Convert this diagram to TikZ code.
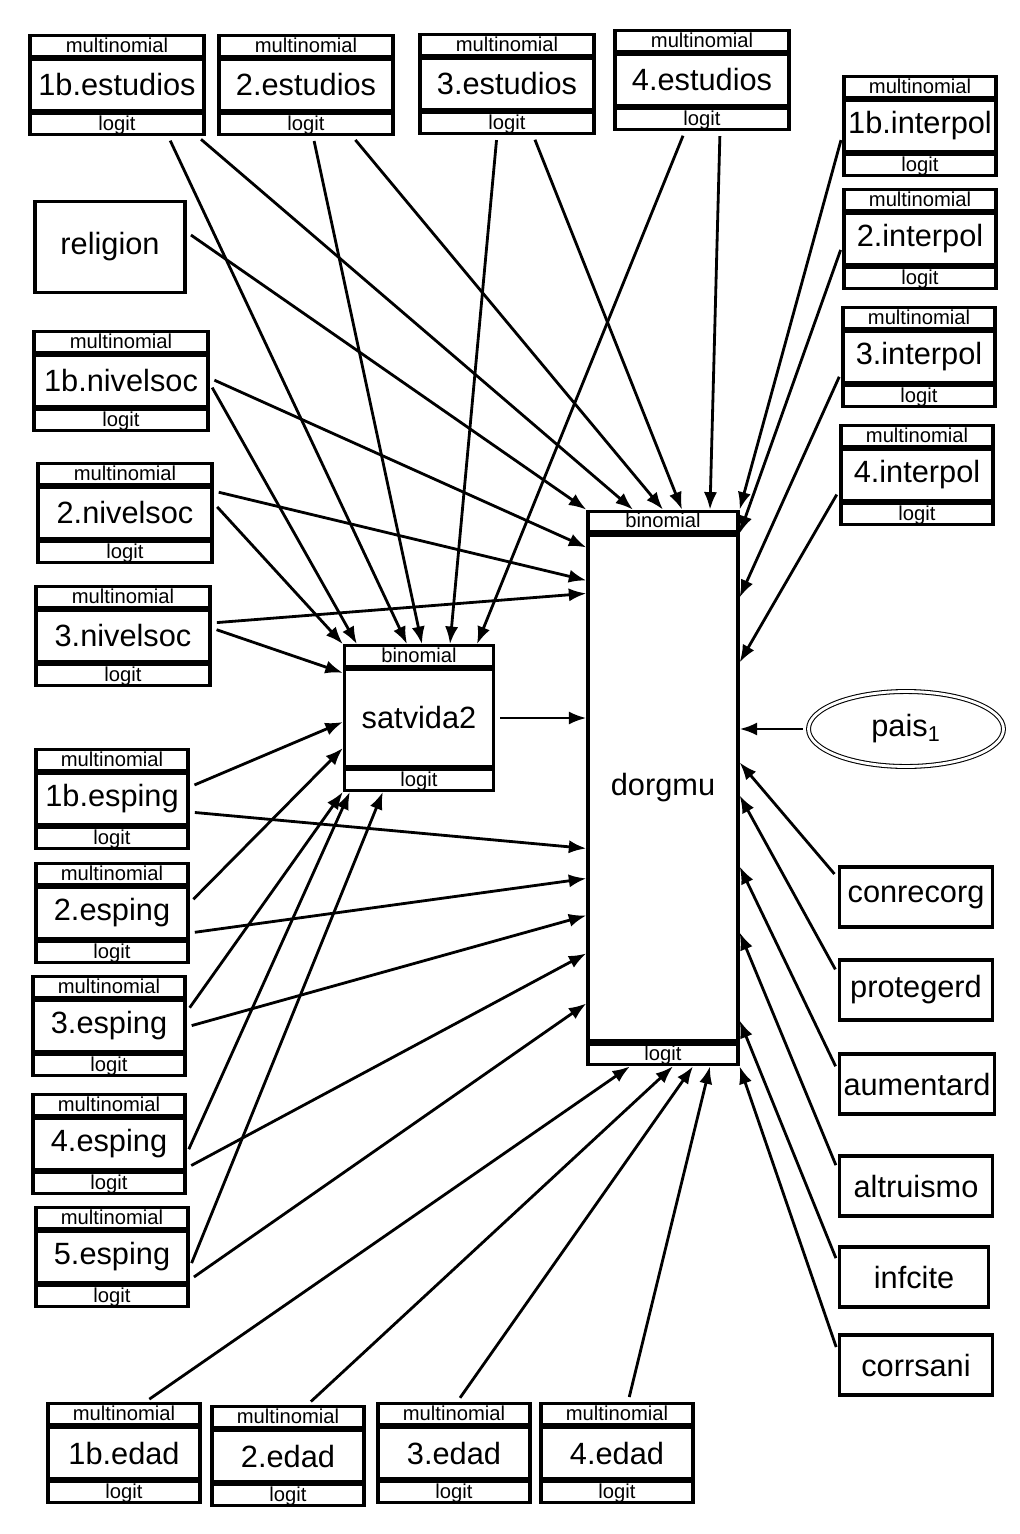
\documentclass[tikz,border=0pt]{standalone}
\usepackage{fontspec}
\setmainfont{Liberation Sans}
\usetikzlibrary{arrows.meta,positioning,calc,shapes.geometric}

% variable box with upper and lower strip
\newcommand{\semvar}[6]{%
  \node[midbox, minimum width=#3, minimum height=#4] (#1) at (#2) {#5};
  \node[stripbox, minimum width=#3, above=0pt of #1] (#1-t) {#6};
  \node[stripbox, minimum width=#3, below=0pt of #1] (#1-b) {logit};
}

\begin{document}
\begin{tikzpicture}[x=0.02cm, y=-0.02cm,
  midbox/.style={draw, line width=0.065cm, inner sep=0pt, font=\fontsize{17.5}{20}\selectfont},
  stripbox/.style={draw, line width=0.065cm, inner sep=0pt, minimum height=0.41cm, text height=8.5pt, text depth=1.5pt, font=\fontsize{11.5}{12}\selectfont},
  arr/.style={-{Latex[length=10pt,width=7.5pt]}, line width=1.6pt, shorten <=3pt}]
	\path[fill=white] (0,0) rectangle (1019,1534);
	% top row
	\semvar{est1}{117,85}{3.48cm}{1.02cm}{1b.estudios}{multinomial}
	\semvar{est2}{306,85}{3.48cm}{1.02cm}{2.estudios}{multinomial}
	\semvar{est3}{507,84}{3.48cm}{1.02cm}{3.estudios}{multinomial}
	\semvar{est4}{702,80}{3.48cm}{1.02cm}{4.estudios}{multinomial}
	% right column
	\semvar{ip1}{920,126}{3.04cm}{1.02cm}{1b.interpol}{multinomial}
	\semvar{ip2}{920,239}{3.04cm}{1.02cm}{2.interpol}{multinomial}
	\semvar{ip3}{919,357}{3.04cm}{1.02cm}{3.interpol}{multinomial}
	\semvar{ip4}{917,475}{3.04cm}{1.02cm}{4.interpol}{multinomial}
	% left column
	\node[midbox, minimum width=3.0cm, minimum height=1.82cm] (rel) at (110,247) {religion};
	\semvar{ns1}{121,381}{3.48cm}{1.02cm}{1b.nivelsoc}{multinomial}
	\semvar{ns2}{125,513}{3.48cm}{1.02cm}{2.nivelsoc}{multinomial}
	\semvar{ns3}{123,636}{3.48cm}{1.02cm}{3.nivelsoc}{multinomial}
	\semvar{es1}{112,799}{3.04cm}{1.02cm}{1b.esping}{multinomial}
	\semvar{es2}{112,913}{3.04cm}{1.02cm}{2.esping}{multinomial}
	\semvar{es3}{109,1026}{3.04cm}{1.02cm}{3.esping}{multinomial}
	\semvar{es4}{109,1144}{3.04cm}{1.02cm}{4.esping}{multinomial}
	\semvar{es5}{112,1257}{3.04cm}{1.02cm}{5.esping}{multinomial}
	% bottom row
	\semvar{ed1}{124,1453}{3.04cm}{1.02cm}{1b.edad}{multinomial}
	\semvar{ed2}{288,1456}{3.04cm}{1.02cm}{2.edad}{multinomial}
	\semvar{ed3}{454,1453}{3.04cm}{1.02cm}{3.edad}{multinomial}
	\semvar{ed4}{617,1453}{3.04cm}{1.02cm}{4.edad}{multinomial}
	% outcomes
	\semvar{sat}{419,718}{2.98cm}{1.94cm}{satvida2}{binomial}
	\semvar{dorg}{663,788}{3.0cm}{10.12cm}{dorgmu}{binomial}
	\node[ellipse, draw, double, line width=0.6pt, double distance=1.6pt, minimum width=3.9cm, minimum height=1.5cm, font=\fontsize{17.5}{20}\selectfont] (pais) at (906,729) {pais\textsubscript{1}};
	\node[midbox, minimum width=3.06cm, minimum height=1.2cm] (conr) at (916,897) {conrecorg};
	\node[midbox, minimum width=3.06cm, minimum height=1.2cm] (prot) at (916,990) {protegerd};
	\node[midbox, minimum width=3.1cm, minimum height=1.2cm] (aum) at (917,1084) {aumentard};
	\node[midbox, minimum width=3.06cm, minimum height=1.2cm] (altr) at (916,1186) {altruismo};
	\node[midbox, minimum width=2.98cm, minimum height=1.2cm] (infc) at (914,1277) {infcite};
	\node[midbox, minimum width=3.06cm, minimum height=1.2cm] (corr) at (916,1365) {corrsani};
	% estudios
	\draw[arr] ($(est1-b.south)+(51,0)$) -- ($(sat-t.north)+(-12,0)$);
	\draw[arr] ($(est1-b.south)+(80,0)$) -- ($(dorg-t.north)+(-30,0)$);
	\draw[arr] ($(est2-b.south)+(7,0)$) -- ($(sat-t.north)+(3,0)$);
	\draw[arr] ($(est2-b.south)+(46,0)$) -- (dorg-t.north);
	\draw[arr] ($(est3-b.south)+(-10,0)$) -- ($(sat-t.north)+(31,0)$);
	\draw[arr] ($(est3-b.south)+(26,0)$) -- ($(dorg-t.north)+(19,0)$);
	\draw[arr] ($(est4-b.south)+(-17,0)$) -- ($(sat-t.north)+(58,0)$);
	\draw[arr] ($(est4-b.south)+(18,0)$) -- ($(dorg-t.north)+(47,0)$);
	% religion, nivelsoc
	\draw[arr] ($(rel.east)+(0,-15)$) -- (dorg-t.north west);
	\draw[arr] ($(ns1.east)+(0,-3)$) -- ($(dorg.north west)+(0,14)$);
	\draw[arr] ($(ns1.east)+(0,2)$) -- ($(sat-t.north west)+(14,0)$);
	\draw[arr] ($(ns2.east)+(0,-22)$) -- ($(dorg.north west)+(0,47)$);
	\draw[arr] ($(ns2.east)+(0,-10)$) -- (sat-t.north west);
	\draw[arr] ($(ns3.east)+(0,-13)$) -- ($(dorg.north west)+(0,60)$);
	\draw[arr] ($(ns3.east)+(0,-8)$) -- ($(sat.north west)+(0,5)$);
	\draw[arr] (sat.east) -- (sat.east -| dorg.west);
	% esping
	\draw[arr] ($(es1.east)+(0,-12)$) -- ($(sat.west)+(0,4)$);
	\draw[arr] ($(es1.east)+(0,13)$) -- ($(dorg.north west)+(0,315)$);
	\draw[arr] ($(es2.east)+(0,-10)$) -- ($(sat.west)+(0,30)$);
	\draw[arr] ($(es2.east)+(0,20)$) -- ($(dorg.north west)+(0,345)$);
	\draw[arr] ($(es3.east)+(0,-14)$) -- (sat-b.south west);
	\draw[arr] ($(es3.east)+(0,1)$) -- ($(dorg.north west)+(0,382)$);
	\draw[arr] ($(es4.east)+(0,10)$) -- ($(sat-b.south west)+(7,0)$);
	\draw[arr] ($(es4.east)+(0,24)$) -- ($(dorg.north west)+(0,420)$);
	\draw[arr] ($(es5.east)+(0,11)$) -- ($(sat-b.south west)+(40,0)$);
	\draw[arr] ($(es5.east)+(0,23)$) -- ($(dorg.north west)+(0,470)$);
	% edad
	\draw[arr] ($(ed1-t.north)+(21,0)$) -- ($(dorg-b.south)+(-33,0)$);
	\draw[arr] ($(ed2-t.north)+(19,0)$) -- ($(dorg-b.south)+(10,0)$);
	\draw[arr] ($(ed3-t.north)+(3,0)$) -- ($(dorg-b.south)+(30,0)$);
	\draw[arr] ($(ed4-t.north)+(11,0)$) -- ($(dorg-b.south)+(47,0)$);
	% interpol
	\draw[arr] ($(ip1.west)+(0,9)$) -- (dorg-t.north east);
	\draw[arr] ($(ip2.west)+(0,6)$) -- (dorg.north east);
	\draw[arr] ($(ip3.west)+(0,15)$) -- ($(dorg.north east)+(0,64)$);
	\draw[arr] ($(ip4.west)+(0,15)$) -- ($(dorg.north east)+(0,129)$);
	% right side
	\draw[arr] (pais.west) -- (pais.west -| dorg.east);
	\draw[arr] ($(conr.west)+(0,-19)$) -- ($(dorg.north east)+(0,229)$);
	\draw[arr] ($(prot.west)+(0,-16)$) -- ($(dorg.north east)+(0,262)$);
	\draw[arr] ($(aum.west)+(0,-13)$) -- ($(dorg.north east)+(0,333)$);
	\draw[arr] ($(altr.west)+(0,-16)$) -- ($(dorg.north east)+(0,399)$);
	\draw[arr] ($(infc.west)+(0,-14)$) -- ($(dorg.north east)+(0,487)$);
	\draw[arr] ($(corr.west)+(0,-13)$) -- (dorg-b.south east);
\end{tikzpicture}
\end{document}
